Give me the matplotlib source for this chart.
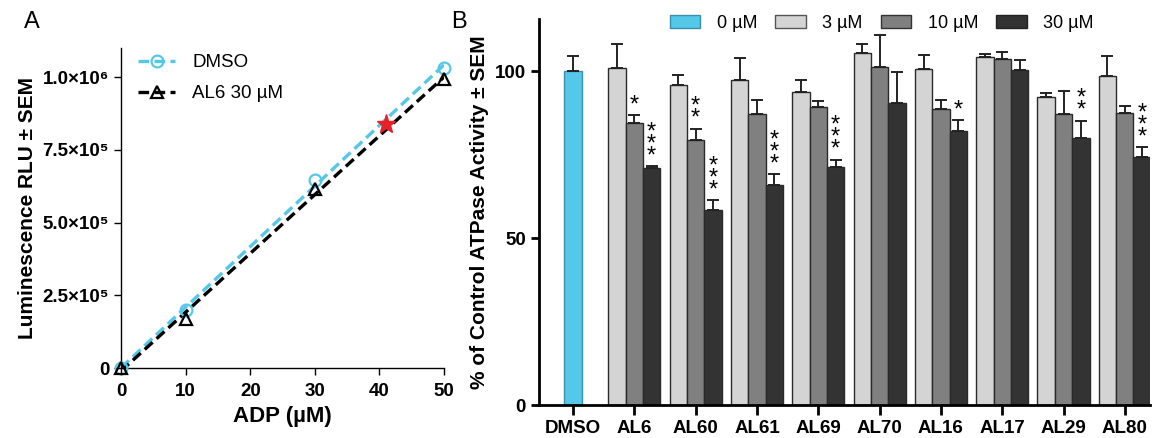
import numpy as np
import matplotlib.pyplot as plt
from matplotlib.patches import Patch
from matplotlib.lines import Line2D

plt.rcParams['font.family'] = ['Liberation Sans', 'DejaVu Sans']

# --- panel A: ADP standard curve ---
adp = [0, 10, 30, 50]
dmso_rlu = [0, 2.0e5, 6.46e5, 1.032e6]
al6_rlu = [0, 1.70e5, 6.14e5, 0.994e6]
star_x, star_y = 41, 8.38e5
a_yticks = [0, 2.5e5, 5.0e5, 7.5e5, 1.0e6]
a_yticklabels = ['0', '2.5×10⁵', '5.0×10⁵', '7.5×10⁵', '1.0×10⁶']

# --- panel B: ATPase activity ---
compounds = ['AL6', 'AL60', 'AL61', 'AL69', 'AL70', 'AL16', 'AL17', 'AL29', 'AL80']
dmso_act, dmso_sem = 100.0, 4.5
act_3 = [100.8, 95.9, 97.3, 93.6, 105.3, 100.7, 104.2, 92.3, 98.4]
act_10 = [84.6, 79.3, 87.3, 89.2, 101.3, 88.6, 103.7, 87.1, 87.6]
act_30 = [70.9, 58.3, 65.8, 71.4, 90.4, 82.2, 100.3, 80.0, 74.3]
sem_3 = [7.2, 2.8, 6.5, 3.7, 2.8, 4.1, 0.9, 1.0, 6.2]
sem_10 = [2.2, 3.5, 3.9, 1.7, 9.6, 2.6, 2.1, 6.9, 1.9]
sem_30 = [0.7, 3.0, 3.4, 2.1, 9.4, 3.1, 3.1, 5.2, 2.9]
sig_10 = ['*', '**', '', '', '', '', '', '', '']
sig_30 = ['***', '***', '***', '***', '', '*', '', '**', '***']

blue = '#55C8EA'
greys = ['#D4D4D4', '#808080', '#333333']

fig = plt.figure(figsize=(11.54, 4.38), dpi=100)

# ================= A =================
axA = fig.add_axes([0.1049, 0.1598, 0.2799, 0.7306])
xfit = np.array([0, 50])
dash = (0, (3.2, 1.6))
for yv, col, mk in [(dmso_rlu, blue, 'o'), (al6_rlu, 'black', '^')]:
    k = np.polyfit(adp, yv, 1)
    axA.plot(xfit, np.polyval(k, xfit), color=col, lw=2.4, ls=dash, zorder=2)
    axA.plot(adp, yv, ls='none', marker=mk, ms=8.5, mfc='none', mec=col, mew=1.6,
             clip_on=False, zorder=3)
axA.plot([star_x], [star_y], marker='*', color='#E8202A', ms=14, ls='none', zorder=4)

axA.set_xlim(0, 50)
axA.set_ylim(0, 1.1e6)
axA.set_xticks([0, 10, 20, 30, 40, 50])
axA.set_yticks(a_yticks)
axA.set_yticklabels(a_yticklabels)
for s in ['top', 'right']:
    axA.spines[s].set_visible(False)
for s in ['left', 'bottom']:
    axA.spines[s].set_linewidth(1.0)
axA.tick_params(labelsize=13.5, width=1.0, length=5)
axA.tick_params(axis='x', pad=6)
for t in axA.get_xticklabels() + axA.get_yticklabels():
    t.set_fontweight('bold')
axA.set_xlabel('ADP (µM)', fontsize=16, fontweight='bold', labelpad=4)
axA.set_ylabel('Luminescence RLU ± SEM', fontsize=15, fontweight='bold', labelpad=4)

handlesA = [
    Line2D([], [], color=blue, lw=2.4, ls=dash, marker='o', ms=8.5, mfc='none', mew=1.6),
    Line2D([], [], color='black', lw=2.4, ls=dash, marker='^', ms=8.5, mfc='none', mew=1.6),
]
axA.legend(handlesA, ['DMSO', 'AL6 30 µM'], loc='upper left', bbox_to_anchor=(0.0, 1.034),
           frameon=False, fontsize=13.5, handlelength=2.0, handletextpad=0.9, labelspacing=0.75)

fig.text(0.021, 0.935, 'A', fontsize=17)

# ================= B =================
axB = fig.add_axes([0.4671, 0.0753, 0.5294, 0.8813])
w = 0.283
err_kw = dict(ecolor='#222222', elinewidth=1.4, capsize=4, capthick=1.4)
axB.bar(0, dmso_act, width=w, color=blue, edgecolor='#3A8FAA', linewidth=1,
        yerr=[[0], [dmso_sem]], error_kw=err_kw, zorder=2)

xs = np.arange(1, len(compounds) + 1)
for j, (vals, sems, col) in enumerate([(act_3, sem_3, greys[0]),
                                       (act_10, sem_10, greys[1]),
                                       (act_30, sem_30, greys[2])]):
    pos = xs + (j - 1) * w
    axB.bar(pos, vals, width=w, color=col, edgecolor='#2A2A2A', linewidth=1,
            yerr=[np.zeros(len(vals)), sems], error_kw=err_kw, zorder=2)

# significance marks, stacked asterisks above the error bar
for j, (vals, sems, sig) in enumerate([(act_10, sem_10, sig_10), (act_30, sem_30, sig_30)]):
    for i, s in enumerate(sig):
        if s:
            axB.annotate('\n'.join(s), (xs[i] + j * w, vals[i] + sems[i]),
                         xytext=(0, -1), textcoords='offset points',
                         ha='center', va='bottom', fontsize=17, linespacing=0.42)

axB.set_xlim(-0.555, 9.41)
axB.set_ylim(0, 115.6)
axB.set_xticks(np.concatenate([[0], xs]))
axB.set_xticklabels(['DMSO'] + compounds)
axB.set_yticks([0, 50, 100])
for s in ['top', 'right']:
    axB.spines[s].set_visible(False)
for s in ['left', 'bottom']:
    axB.spines[s].set_linewidth(2.0)
axB.tick_params(axis='x', labelsize=13.5, width=2.0, length=7)
axB.tick_params(axis='y', labelsize=13.5, width=2.0, length=6)
for t in axB.get_xticklabels() + axB.get_yticklabels():
    t.set_fontweight('bold')
axB.set_ylabel('% of Control ATPase Activity ± SEM', fontsize=15, fontweight='bold', labelpad=4)

handlesB = [Patch(facecolor=blue, edgecolor='#3A8FAA'),
            Patch(facecolor=greys[0], edgecolor='#555555'),
            Patch(facecolor=greys[1], edgecolor='#333333'),
            Patch(facecolor=greys[2], edgecolor='#222222')]
fig.legend(handlesB, ['0 µM', '3 µM', '10 µM', '30 µM'], loc='center',
           bbox_to_anchor=(0.764, 0.947), ncol=4, frameon=False, fontsize=13,
           handlelength=1.7, handleheight=0.7, handletextpad=0.9, columnspacing=1.0)

fig.text(0.391, 0.935, 'B', fontsize=17)

fig.savefig('out.png', dpi=100)
